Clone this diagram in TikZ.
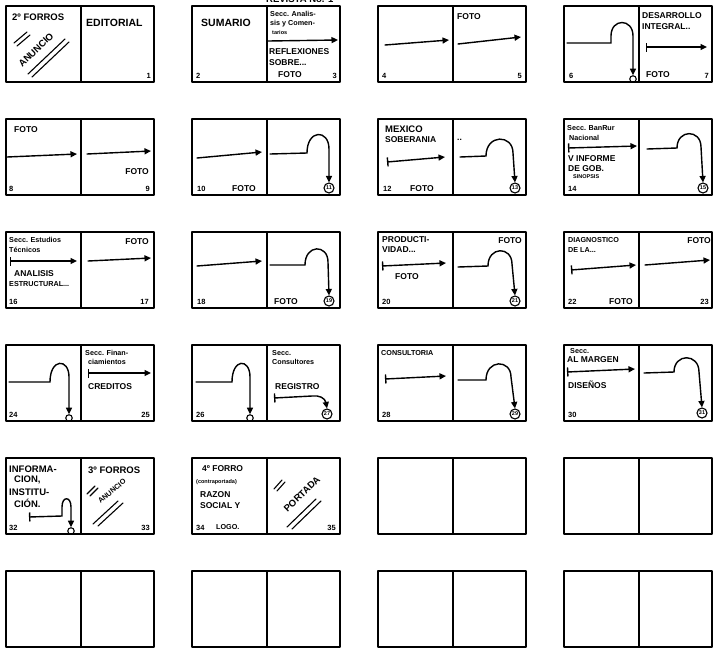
\documentclass[tikz,border=0pt]{standalone}
\usepackage{fontspec}
\setmainfont{Liberation Sans}
\newfontfamily\hand{Liberation Sans}
\usetikzlibrary{arrows.meta}
\tikzset{
  frm/.style={line width=1.6pt, line join=round, line cap=round},
  arw/.style={line width=1.4pt, line cap=round, -{Triangle[length=6.5pt,width=6pt]}},
  barw/.style={line width=1.4pt, {Bar[width=9pt,line width=1.4pt]}-{Triangle[length=6.5pt,width=6pt]}},
  slash/.style={line width=1.1pt, line cap=round},
  lbl/.style={anchor=west, inner sep=0pt, font=\hand\bfseries\fontsize{9.5}{10}\selectfont},
  lblb/.style={lbl, font=\hand\bfseries\fontsize{10.5}{11}\selectfont},
  lblm/.style={lbl, font=\hand\bfseries\fontsize{8.5}{9}\selectfont},
  lbls/.style={lbl, font=\hand\bfseries\fontsize{7.2}{8}\selectfont},
  lblt/.style={lbl, font=\hand\bfseries\fontsize{5.5}{6}\selectfont},
  pgl/.style={anchor=south west, inner sep=0pt, font=\hand\bfseries\fontsize{7.5}{8}\selectfont},
  pgr/.style={pgl, anchor=south east},
  cnum/.style={circle, draw, line width=1.1pt, inner sep=0pt, minimum size=10pt, font=\hand\bfseries\fontsize{5.5}{6}\selectfont},
  ring/.style={circle, draw, line width=1.1pt, inner sep=0pt, minimum size=6.5pt},
}
\newcommand\spreadframe{\draw[frm] (0,0) rectangle (148,76); \draw[frm] (75,0) -- (75,76);}
\begin{document}
\begin{tikzpicture}[x=1pt,y=-1pt]
\useasboundingbox (0,0) rectangle (715,649);
\begin{scope}
\clip (0,0) rectangle (715,649);
\node[lbl, anchor=base west] (title) at (266,2.5) {REVISTA No. 1};
\end{scope}

% ---------- row 1 ----------
\begin{scope}[shift={(6,6)}]
\spreadframe
\node[lbl] (s1a) at (6,11) {2º FORROS};
\node[lblb] (s1b) at (80,17) {EDITORIAL};
\node[pgr] (s1n) at (145,73) {1};
\node[lbl, anchor=center, rotate=44] (s1c) at (30,44) {ANUNCIO};
\draw[slash] (8,37) -- (21,26);
\draw[slash] (11,40) -- (24,29);
\draw[slash] (22,68) -- (59,33);
\draw[slash] (26,71) -- (63,36);
\end{scope}

\begin{scope}[shift={(192,6)}]
\spreadframe
\node[lblb] (s2a) at (9,17) {SUMARIO};
\node[pgl] (s2n) at (4,73) {2};
\node[lbls] (s2b) at (78,8) {Secc. Analis-};
\node[lbls] (s2c) at (78,18) {sis y Comen-};
\node[lblt] (s2d) at (80,27) {tarios};
\draw[arw] (76,35) -- (146,34);
\node[lblm] (s2e) at (77,46) {REFLEXIONES};
\node[lblm] (s2f) at (77,57) {SOBRE...};
\node[lblm] (s2g) at (86,69) {FOTO};
\node[pgr] (s2m) at (145,73) {3};
\end{scope}

\begin{scope}[shift={(378,6)}]
\spreadframe
\draw[arw] (7,39) -- (71,34);
\node[lblm] (s3a) at (79,11) {FOTO};
\draw[arw] (80,38) -- (143,31);
\node[pgl] (s3n) at (4,73) {4};
\node[pgr] (s3m) at (144,73) {5};
\end{scope}

\begin{scope}[shift={(564,6)}]
\spreadframe
\node[ring] (o6) at (69,73) {};
\draw[arw] (3,37) -- (47,37) -- (47,30) .. controls (47,12) and (69,12) .. (69,30) -- (o6.north);
\node[pgl] (s4n) at (5,73) {6};
\node[lblm] (s4a) at (78,10) {DESARROLLO};
\node[lblm] (s4b) at (78,21) {INTEGRAL..};
\draw[barw] (82,41) -- (143,41);
\node[lblm] (s4c) at (82,69) {FOTO};
\node[pgr] (s4m) at (145,73) {7};
\end{scope}

% ---------- row 2 ----------
\begin{scope}[shift={(6,119)}]
\spreadframe
\node[lblm] (s5a) at (8,11) {FOTO};
\draw[arw] (1,38) -- (71,35);
\draw[arw] (81,35) -- (145,32);
\node[lblm, anchor=east] (s5b) at (143,53) {FOTO};
\node[pgl] (s5n) at (3,73) {8};
\node[pgr] (s5m) at (144,73) {9};
\end{scope}

\begin{scope}[shift={(192,119)}]
\spreadframe
\draw[arw] (5,39) -- (70,33);
\node[cnum] (c11) at (137,69) {11};
\draw[arw] (78,35) -- (115,34) .. controls (115,10) and (137,10) .. (137,30) -- (c11.north);
\node[pgl] (s6n) at (5,73) {10};
\node[lblm, anchor=south west] (s6a) at (40,73) {FOTO};
\end{scope}

\begin{scope}[shift={(378,119)}]
\spreadframe
\node[lbl] (s7a) at (7,10) {MEXICO};
\node[lblm] (s7b) at (7,21) {SOBERANIA};
\node[lblm] (s7c) at (79,21) {..};
\draw[barw] (9,43) -- (67,38);
\node[cnum] (c13) at (137,69) {13};
\draw[arw] (82,38) -- (108,37) .. controls (108,15) and (135,15) .. (135,34) -- (c13.north);
\node[pgl] (s7n) at (5,73) {12};
\node[lblm, anchor=south west] (s7d) at (32,73) {FOTO};
\end{scope}

\begin{scope}[shift={(564,119)}]
\spreadframe
\node[lbls] (s8a) at (3,9) {Secc. BanRur};
\node[lbls] (s8b) at (5,19) {Nacional};
\draw[barw] (4,29) -- (73,27);
\node[lblm] (s8c) at (4,40) {V INFORME};
\node[lblm] (s8d) at (4,50) {DE GOB.};
\node[lblt] (s8e) at (9,58) {SINOPSIS};
\node[pgl] (s8n) at (4,73) {14};
\node[cnum] (c15) at (139,69) {15};
\draw[arw] (83,30) -- (113,29) .. controls (113,10) and (137,10) .. (137,28) -- (c15.north);
\end{scope}

% ---------- row 3 ----------
\begin{scope}[shift={(6,232)}]
\spreadframe
\node[lbls] (s9a) at (3,8) {Secc. Estudios};
\node[lbls] (s9b) at (3,18) {Técnicos};
\draw[barw] (4,29) -- (71,29);
\node[lblm, anchor=east] (s9c) at (143,10) {FOTO};
\draw[arw] (82,29) -- (145,26);
\node[lblm] (s9d) at (8,42) {ANALISIS};
\node[lbls] (s9e) at (3,52) {ESTRUCTURAL...};
\node[pgl] (s9n) at (3,73) {16};
\node[pgr] (s9m) at (143,73) {17};
\end{scope}

\begin{scope}[shift={(192,232)}]
\spreadframe
\draw[arw] (5,34) -- (70,29);
\node[cnum] (c19) at (137,69) {19};
\draw[arw] (78,33) -- (113,33) .. controls (113,12) and (136,12) .. (136,30) -- (c19.north);
\node[pgl] (s10n) at (5,73) {18};
\node[lblm, anchor=south west] (s10a) at (82,73) {FOTO};
\end{scope}

\begin{scope}[shift={(378,232)}]
\spreadframe
\node[lblm] (s11a) at (4,8) {PRODUCTI-};
\node[lblm] (s11b) at (4,18) {VIDAD...};
\node[lblm, anchor=east] (s11c) at (144,9) {FOTO};
\draw[barw] (4,34) -- (68,31);
\node[lblm] (s11d) at (17,45) {FOTO};
\node[pgl] (s11n) at (4,73) {20};
\node[cnum] (c21) at (137,69) {21};
\draw[arw] (80,35) -- (110,34) .. controls (110,14) and (134,14) .. (134,32) -- (c21.north);
\end{scope}

\begin{scope}[shift={(564,232)}]
\spreadframe
\node[lbls] (s12a) at (4,8) {DIAGNOSTICO};
\node[lbls] (s12b) at (4,18) {DE LA...};
\node[lblm, anchor=east] (s12c) at (147,9) {FOTO};
\draw[barw] (7,38) -- (72,33);
\draw[arw] (81,33) -- (146,28);
\node[pgl] (s12n) at (4,73) {22};
\node[lblm, anchor=south west] (s12d) at (45,73) {FOTO};
\node[pgr] (s12m) at (145,73) {23};
\end{scope}

% ---------- row 4 ----------
\begin{scope}[shift={(6,345)}]
\spreadframe
\node[ring] (o24) at (63,73) {};
\draw[arw] (3,37) -- (44,37) .. controls (44,13) and (63,13) .. (63,32) -- (o24.north);
\node[pgl] (s13n) at (3,73) {24};
\node[lbls] (s13a) at (79,8) {Secc. Finan-};
\node[lbls] (s13b) at (82,17) {ciamientos};
\draw[barw] (82,28) -- (145,28);
\node[lblm] (s13c) at (82,42) {CREDITOS};
\node[pgr] (s13m) at (144,73) {25};
\end{scope}

\begin{scope}[shift={(192,345)}]
\spreadframe
\node[ring] (o26) at (58,73) {};
\draw[arw] (4,37) -- (40,37) .. controls (40,13) and (58,13) .. (58,32) -- (o26.north);
\node[pgl] (s14n) at (4,73) {26};
\node[lbls] (s14a) at (80,8) {Secc.};
\node[lbls] (s14b) at (80,17) {Consultores};
\node[lblm] (s14c) at (83,42) {REGISTRO};
\node[cnum] (c27) at (135,69) {27};
\draw[barw] (82,53) -- (120,51) .. controls (127,50) and (133,53) .. (c27.north);
\end{scope}

\begin{scope}[shift={(378,345)}]
\spreadframe
\node[lbls] (s15a) at (3,8) {CONSULTORIA};
\draw[barw] (7,34) -- (68,31);
\node[pgl] (s15n) at (4,73) {28};
\node[cnum] (c29) at (137,69) {29};
\draw[arw] (80,35) -- (108,35) .. controls (108,14) and (133,14) .. (133,32) -- (c29.north);
\end{scope}

\begin{scope}[shift={(564,345)}]
\spreadframe
\node[lbls] (s16a) at (6,6) {Secc.};
\node[lblm] (s16b) at (3,15) {AL MARGEN};
\draw[barw] (3,27) -- (71,24);
\node[lblm] (s16c) at (4,40) {DISEÑOS};
\node[pgl] (s16n) at (4,73) {30};
\node[cnum] (c31) at (138,68) {31};
\draw[arw] (80,28) -- (110,27) .. controls (110,8) and (135,8) .. (135,27) -- (c31.north);
\end{scope}

% ---------- row 5 ----------
\begin{scope}[shift={(6,458)}]
\spreadframe
\node[lbl] (s17a) at (3,11) {INFORMA-};
\node[lbl] (s17b) at (8,22) {CION,};
\node[lbl] (s17c) at (3,34) {INSTITU-};
\node[lbl] (s17d) at (8,45) {CIÓN.};
\node[ring] (o32) at (65,73) {};
\draw[barw] (23,59) -- (56,58) -- (56,49) .. controls (56,38) and (65,38) .. (65,49) -- (o32.north);
\node[pgl] (s17n) at (3,73) {32};
\node[lbl] (s17e) at (82,12) {3º FORROS};
\draw[slash] (81,36) -- (89,28);
\draw[slash] (84,38) -- (92,30);
\node[lbls, anchor=center, rotate=40] (s17f) at (106,33) {ANUNCIO};
\draw[slash] (87,66) -- (112,43);
\draw[slash] (92,68) -- (117,45);
\node[pgr] (s17m) at (144,73) {33};
\end{scope}

\begin{scope}[shift={(192,458)}]
\spreadframe
\node[lblm] (s18a) at (10,11) {4º FORRO};
\node[lblt] (s18b) at (4,24) {(contraportada)};
\node[lblm] (s18c) at (8,37) {RAZON};
\node[lblm] (s18d) at (8,48) {SOCIAL Y};
\node[lbls, anchor=south west] (s18e) at (24,72) {LOGO.};
\node[pgl] (s18n) at (4,73) {34};
\draw[slash] (82,31) -- (90,22);
\draw[slash] (85,33) -- (93,24);
\node[lbl, anchor=center, rotate=44] (s18f) at (110,36) {PORTADA};
\draw[slash] (95,69) -- (124,41);
\draw[slash] (100,71) -- (129,43);
\node[pgr] (s18m) at (144,73) {35};
\end{scope}

\begin{scope}[shift={(378,458)}]
\spreadframe
\end{scope}
\begin{scope}[shift={(564,458)}]
\spreadframe
\end{scope}

% ---------- row 6 ----------
\begin{scope}[shift={(6,571)}]
\spreadframe
\end{scope}
\begin{scope}[shift={(192,571)}]
\spreadframe
\end{scope}
\begin{scope}[shift={(378,571)}]
\spreadframe
\end{scope}
\begin{scope}[shift={(564,571)}]
\spreadframe
\end{scope}
\end{tikzpicture}
\end{document}
